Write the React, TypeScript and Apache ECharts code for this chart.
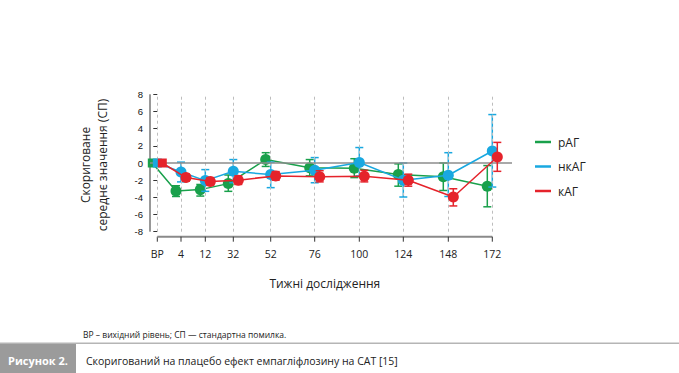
import React, { useEffect, useRef } from "react";
import * as echarts from "echarts";

// Visit labels and their positions on the (non-linear) visit axis
const weekLabels = ["ВР", "4", "12", "32", "52", "76", "100", "124", "148", "172"];
const axisPos = [0, 23.7, 48, 76, 113.4, 157.4, 202, 246, 291, 335];

const seriesNames = ["рАГ", "нкАГ", "кАГ"];

// рАГ
const rAGMean = [0, -3.25, -3.1, -2.4, 0.4, -0.55, -0.62, -1.35, -1.6, -2.7];
const rAGLow = [null, -3.9, -3.85, -3.3, -0.4, -1.5, -1.7, -2.7, -3.2, -5.1];
const rAGHigh = [null, -2.65, -2.5, -1.4, 1.2, 0.4, 0.5, -0.1, 0.0, -0.3];

// нкАГ
const nkAGMean = [0, -1.05, -2.05, -0.97, -1.35, -0.85, 0.05, -2.0, -1.43, 1.4];
const nkAGLow = [null, -2.2, -3.3, -2.3, -2.87, -2.3, -1.5, -3.96, -3.9, -2.8];
const nkAGHigh = [null, 0.1, -0.77, 0.4, 0.1, 0.63, 1.8, 0.0, 1.2, 5.64];

// кАГ
const kAGMean = [0, -1.7, -2.15, -2.0, -1.5, -1.6, -1.55, -2.0, -3.96, 0.7];
const kAGLow = [null, -2.1, -2.6, -2.5, -2.0, -2.2, -2.2, -2.7, -5.0, -0.97];
const kAGHigh = [null, -1.3, -1.7, -1.5, -1.0, -0.9, -0.85, -1.3, -3.0, 2.4];

const yTicksMin = -8;
const yTicksMax = 8;

const COLORS = ["#19a04b", "#19a8e0", "#e5232b"];
const DODGE = [-5, 0, 5];
const FONT = "'Open Sans', 'Noto Sans', sans-serif";

export default function App() {
  const ref = useRef<HTMLDivElement>(null);

  useEffect(() => {
    if (!ref.current) return;
    const chart = echarts.init(ref.current, undefined, { renderer: "svg" });

    const groups = [
      { mean: rAGMean, low: rAGLow, high: rAGHigh },
      { mean: nkAGMean, low: nkAGLow, high: nkAGHigh },
      { mean: kAGMean, low: kAGLow, high: kAGHigh },
    ];

    const series: any[] = [
      {
        type: "line",
        data: [],
        z: 1,
        silent: true,
        markLine: {
          silent: true,
          symbol: "none",
          label: { show: false },
          animation: false,
          data: [
            ...axisPos.map((p) => ({
              xAxis: p,
              lineStyle: { color: "#bdbdbd", type: [3, 3], width: 1 },
            })),
            { yAxis: 0, lineStyle: { color: "#8c8c8c", type: "solid", width: 1.5 } },
          ],
        },
      },
      {
        // y axis line (from the lowest to the highest tick)
        type: "custom",
        silent: true,
        z: 1,
        data: [[0, yTicksMin, yTicksMax]],
        renderItem: (params: any, api: any) => {
          const cs = params.coordSys;
          const y1 = api.coord([0, api.value(1)])[1];
          const y2 = api.coord([0, api.value(2)])[1];
          return {
            type: "line",
            shape: { x1: cs.x, y1, x2: cs.x, y2 },
            style: { stroke: "#333", lineWidth: 1 },
          };
        },
      },
      {
        // bottom visit axis: line between first and last visit + tick marks
        type: "custom",
        xAxisIndex: 1,
        yAxisIndex: 1,
        silent: true,
        z: 1,
        data: axisPos.map((p) => [p, 0]),
        renderItem: (params: any, api: any) => {
          const cs = params.coordSys;
          const yb = cs.y + cs.height;
          const x = api.coord([api.value(0), 0])[0];
          const children: any[] = [
            {
              type: "line",
              shape: { x1: x, y1: yb, x2: x, y2: yb + 5 },
              style: { stroke: "#333", lineWidth: 1 },
            },
          ];
          if (params.dataIndex === 0) {
            const xe = api.coord([axisPos[axisPos.length - 1], 0])[0];
            children.push({
              type: "line",
              shape: { x1: x, y1: yb, x2: xe, y2: yb },
              style: { stroke: "#8a8a8a", lineWidth: 2 },
            });
          }
          return { type: "group", children };
        },
      },
    ];

    groups.forEach((g, si) => {
      const color = COLORS[si];
      const errData = g.mean
        .map((_, i) => [axisPos[i] + DODGE[si], g.low[i], g.high[i]])
        .filter((d) => d[1] !== null);
      series.push({
        type: "custom",
        name: seriesNames[si] + "_err",
        z: 2 + si * 2,
        silent: true,
        data: errData,
        encode: { x: 0, y: [1, 2] },
        renderItem: (params: any, api: any) => {
          const x = api.value(0);
          const top = api.coord([x, api.value(2)]);
          const bot = api.coord([x, api.value(1)]);
          const hw = 4;
          const style = { stroke: color, lineWidth: 1.5 };
          return {
            type: "group",
            children: [
              { type: "line", shape: { x1: top[0], y1: top[1], x2: bot[0], y2: bot[1] }, style },
              { type: "line", shape: { x1: top[0] - hw, y1: top[1], x2: top[0] + hw, y2: top[1] }, style },
              { type: "line", shape: { x1: bot[0] - hw, y1: bot[1], x2: bot[0] + hw, y2: bot[1] }, style },
            ],
          };
        },
      });
      series.push({
        type: "line",
        name: seriesNames[si],
        z: 3 + si * 2,
        color,
        lineStyle: { color, width: 1.5 },
        itemStyle: { color },
        symbol: "circle",
        symbolSize: 11,
        data: g.mean.map((v, i) =>
          i === 0
            ? { value: [axisPos[i] + DODGE[si], v], symbol: "rect", symbolSize: 9 }
            : { value: [axisPos[i] + DODGE[si], v] }
        ),
      });
    });

    chart.setOption({
      animation: false,
      textStyle: { fontFamily: FONT },
      grid: [
        { left: 150, width: 362, top: 94.3, height: 137.4 },
        { left: 157.3, width: 335, top: 94.3, height: 142.4 },
      ],
      xAxis: [
        {
          type: "value",
          gridIndex: 0,
          min: -7.3,
          max: 354.7,
          show: false,
          splitLine: { show: false },
        },
        {
          type: "value",
          gridIndex: 1,
          position: "bottom",
          min: 0,
          max: 335,
          axisLine: { show: false },
          axisTick: { show: false },
          axisLabel: {
            customValues: axisPos,
            margin: 12,
            fontSize: 10.5,
            color: "#222",
            fontFamily: FONT,
            formatter: (v: number) => {
              const idx = axisPos.findIndex((p) => Math.abs(p - v) < 0.01);
              return idx >= 0 ? weekLabels[idx] : "";
            },
          },
          splitLine: { show: false },
          name: "Тижні дослідження",
          nameLocation: "middle",
          nameGap: 41,
          nameTextStyle: { fontSize: 12, color: "#222", fontFamily: FONT },
        },
      ],
      yAxis: [
        {
          type: "value",
          gridIndex: 0,
          min: yTicksMin,
          max: yTicksMax,
          interval: 2,
          axisLine: { show: false },
          axisTick: { show: true, length: 4, lineStyle: { color: "#333" } },
          axisLabel: {
            margin: 7,
            fontSize: 9.5,
            color: "#111",
            fontFamily: "'Liberation Sans', Arial, sans-serif",
          },
          splitLine: { show: false },
        },
        {
          type: "value",
          gridIndex: 1,
          min: 0,
          max: 1,
          show: false,
          splitLine: { show: false },
        },
      ],
      legend: {
        orient: "vertical",
        left: 530,
        top: 130,
        icon: "rect",
        itemWidth: 16,
        itemHeight: 2.5,
        itemGap: 10.5,
        data: seriesNames,
        textStyle: { fontSize: 12, color: "#222", fontFamily: FONT, lineHeight: 14, padding: [0, 0, 0, 2] },
        selectedMode: false,
      },
      graphic: [
        {
          type: "text",
          x: 93.5,
          y: 165,
          rotation: Math.PI / 2,
          style: {
            text: "Скориговане\nсереднє значення (СП)",
            align: "center",
            verticalAlign: "middle",
            font: `12px ${FONT}`,
            lineHeight: 17,
            fill: "#222",
          },
        },
        {
          type: "text",
          x: 83,
          y: 334,
          style: {
            text: "ВР – вихідний рівень; СП — стандартна помилка.",
            verticalAlign: "middle",
            font: `8.5px ${FONT}`,
            fill: "#222",
          },
        },
        {
          type: "rect",
          shape: { x: 0, y: 342.5, width: 679, height: 1.5 },
          style: { fill: "#b5b5b5" },
        },
        {
          type: "rect",
          shape: { x: 0, y: 344, width: 76, height: 29 },
          style: { fill: "#9b9b9b" },
        },
        {
          type: "text",
          x: 8,
          y: 360.5,
          style: {
            text: "Рисунок 2.",
            verticalAlign: "middle",
            font: `bold 11px ${FONT}`,
            fill: "#ffffff",
          },
        },
        {
          type: "text",
          x: 86,
          y: 360.5,
          style: {
            text: "Скоригований на плацебо ефект емпагліфлозину на САТ [15]",
            verticalAlign: "middle",
            font: `10.5px ${FONT}`,
            fill: "#222",
          },
        },
      ],
      series,
    });

    return () => chart.dispose();
  }, []);

  return (
    <div
      ref={ref}
      style={{ position: "fixed", left: 0, top: 0, width: 679, height: 373, background: "#fff" }}
    />
  );
}
